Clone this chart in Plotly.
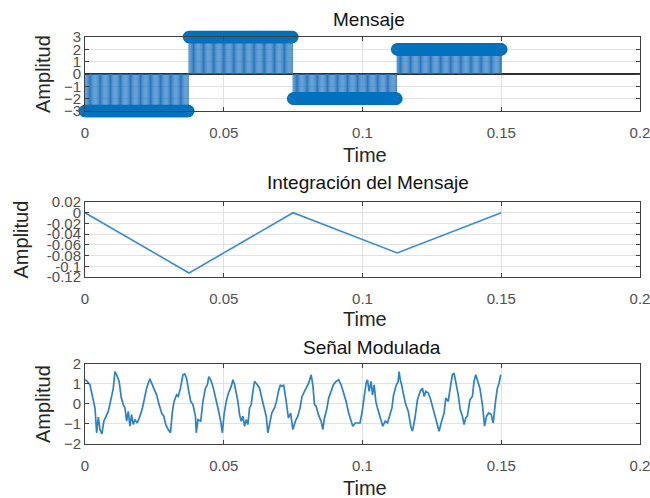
import numpy as np
import plotly.graph_objects as go

# ---------------- data ----------------
# Message: piecewise-constant levels and segment edges (s)
seg_edges = [0.0, 0.0375, 0.075, 0.1125, 0.15]
seg_levels = [-3, 3, -2, 2]
msg_step = 0.0004

# Integral of the message (vertices of the triangle wave)
int_t = [0.0, 0.0375, 0.075, 0.1125, 0.15]
int_v = [0.0, -0.1125, 0.0, -0.075, 0.0]

# Modulated signal
mod_t = [0.0000, 0.0008, 0.0018, 0.0028, 0.0036, 0.0042, 0.0048, 0.0054, 0.0061, 0.0068,
         0.0075, 0.0084, 0.0092, 0.0102, 0.0108, 0.0114, 0.0123, 0.0131, 0.0138, 0.0144,
         0.0150, 0.0156, 0.0162, 0.0168, 0.0174, 0.0180, 0.0188, 0.0198, 0.0207, 0.0216,
         0.0222, 0.0228, 0.0234, 0.0240, 0.0248, 0.0258, 0.0267, 0.0276, 0.0284, 0.0291,
         0.0300, 0.0308, 0.0315, 0.0321, 0.0330, 0.0336, 0.0344, 0.0353, 0.0359, 0.0366,
         0.0374, 0.0381, 0.0389, 0.0398, 0.0401, 0.0407, 0.0417, 0.0425, 0.0434, 0.0441,
         0.0446, 0.0453, 0.0461, 0.0470, 0.0479, 0.0489, 0.0495, 0.0501, 0.0509, 0.0517,
         0.0527, 0.0533, 0.0539, 0.0545, 0.0551, 0.0557, 0.0563, 0.0569, 0.0575, 0.0581,
         0.0587, 0.0593, 0.0599, 0.0605, 0.0611, 0.0621, 0.0629, 0.0637, 0.0647, 0.0653,
         0.0659, 0.0666, 0.0673, 0.0683, 0.0690, 0.0697, 0.0704, 0.0709, 0.0716, 0.0725,
         0.0733, 0.0741, 0.0749, 0.0758, 0.0767, 0.0775, 0.0782, 0.0791, 0.0799, 0.0806,
         0.0815, 0.0821, 0.0827, 0.0833, 0.0843, 0.0851, 0.0857, 0.0863, 0.0871, 0.0878,
         0.0887, 0.0895, 0.0905, 0.0914, 0.0923, 0.0931, 0.0941, 0.0950, 0.0959, 0.0965,
         0.0974, 0.0983, 0.0991, 0.0998, 0.1005, 0.1013, 0.1018, 0.1024, 0.1031, 0.1036,
         0.1042, 0.1048, 0.1054, 0.1063, 0.1073, 0.1082, 0.1090, 0.1099, 0.1106, 0.1112,
         0.1122, 0.1128, 0.1132, 0.1136, 0.1141, 0.1148, 0.1156, 0.1165, 0.1174, 0.1180,
         0.1189, 0.1198, 0.1208, 0.1216, 0.1222, 0.1228, 0.1237, 0.1244, 0.1252, 0.1261,
         0.1270, 0.1276, 0.1285, 0.1294, 0.1300, 0.1309, 0.1316, 0.1324, 0.1330, 0.1336,
         0.1345, 0.1352, 0.1360, 0.1366, 0.1372, 0.1378, 0.1387, 0.1396, 0.1402, 0.1408,
         0.1414, 0.1423, 0.1432, 0.1440, 0.1447, 0.1455, 0.1464, 0.1471, 0.1480, 0.1486,
         0.1492, 0.1498]
mod_v = [1.21, 1.13, 0.96, 0.30, -0.20, -1.44, -0.65, -1.28, -1.50, -0.86,
         -0.61, -0.37, 0.13, 0.79, 1.62, 1.46, 1.13, 0.30, -0.03, -0.20,
         -0.86, -0.37, -1.11, -0.53, -1.03, -0.78, -0.95, -0.61, -0.20, 0.46,
         0.79, 1.04, 1.26, 1.04, 0.79, 0.46, -0.03, -0.45, -0.61, -1.03,
         -1.28, -1.44, -0.37, 0.13, 0.46, 0.38, 0.79, 1.46, 1.50, 1.29,
         0.63, 0.13, -0.03, -0.61, -1.44, -0.78, -0.86, 0.13, 0.79, 0.96,
         1.37, 1.21, 0.88, 0.38, -0.20, -0.86, -1.44, -0.53, 0.13, 0.55,
         0.88, 1.21, 0.96, 0.55, 0.13, -0.53, -0.86, -0.61, -1.11, -0.78,
         -1.03, -0.20, -0.03, 0.63, 1.13, 0.96, 0.79, 0.30, -0.28, -0.61,
         -1.44, -0.86, -0.45, -0.20, 0.13, 0.63, 0.96, 0.88, 0.96, 0.13,
         -0.70, -0.45, -1.28, -0.86, -0.61, -0.20, 0.38, 0.63, 0.88, 1.04,
         1.46, 0.96, -0.03, -0.12, -0.61, -0.86, -1.28, -0.70, -0.28, 0.30,
         0.63, 0.96, 1.13, 1.21, 0.96, 0.63, 0.13, -0.45, -0.86, -1.11,
         -0.95, -0.95, -0.95, -0.45, 0.30, 1.04, 1.21, 0.63, 1.13, 0.46,
         0.96, 0.13, -0.20, -0.61, -1.11, -0.86, -0.95, -0.53, -0.20, 0.45,
         0.96, 1.10, 1.62, 1.21, 0.96, 0.46, -0.03, -0.37, -1.11, -1.36,
         -0.70, 0.21, 0.63, 0.79, 0.38, 0.63, 0.55, 0.30, -0.12, -0.45,
         -0.95, -1.36, -0.86, -0.45, 0.30, 0.13, 0.79, 1.46, 1.54, 1.13,
         0.46, -0.28, -0.61, -1.03, -0.70, -0.61, 0.21, 0.38, 1.13, 1.46,
         1.13, 0.79, -0.03, -1.11, -0.61, -0.45, -0.53, -0.95, 0.21, 0.79,
         1.04, 1.46]

x_ticks = [0, 0.05, 0.1, 0.15, 0.2]
x_ticktext = ["0", "0.05", "0.1", "0.15", "0.2"]
y1_ticks = [-3, -2, -1, 0, 1, 2, 3]
y2_ticks = [-0.12, -0.1, -0.08, -0.06, -0.04, -0.02, 0, 0.02]
y2_ticktext = ["-0.12", "-0.1", "-0.08", "-0.06", "-0.04", "-0.02", "0", "0.02"]
y3_ticks = [-2, -1, 0, 1, 2]

# ---------------- build message samples ----------------
msg_t, msg_v = [], []
for i, lvl in enumerate(seg_levels):
    a, b = seg_edges[i], seg_edges[i + 1]
    ts = np.arange(a, b - 1e-12, msg_step)
    if i == len(seg_levels) - 1:
        ts = np.append(ts, b)
    msg_t.extend(ts.tolist())
    msg_v.extend([lvl] * len(ts))

stem_x, stem_y = [], []
for t, v in zip(msg_t, msg_v):
    stem_x += [t, t, None]
    stem_y += [0, v, None]

BLUE = "#0072BD"
FONT = "Liberation Sans, Arial, Helvetica, sans-serif"

fig = go.Figure()
fig.add_trace(go.Scatter(x=stem_x, y=stem_y, mode="lines",
                         line=dict(color="#2677c0", width=1),
                         xaxis="x", yaxis="y", hoverinfo="skip", showlegend=False))
fig.add_trace(go.Scatter(x=msg_t, y=msg_v, mode="markers", cliponaxis=False,
                         marker=dict(symbol="circle-open", size=11, color=BLUE,
                                     line=dict(width=1.6, color=BLUE)),
                         xaxis="x", yaxis="y", showlegend=False))
fig.add_trace(go.Scatter(x=int_t, y=int_v, mode="lines",
                         line=dict(color="#3a8dd0", width=1.6),
                         xaxis="x2", yaxis="y2", showlegend=False))
fig.add_trace(go.Scatter(x=mod_t, y=mod_v, mode="lines",
                         line=dict(color="#2a82c9", width=1.7),
                         xaxis="x3", yaxis="y3", showlegend=False))

axis_common = dict(showline=True, linecolor="#404040", linewidth=1, mirror="allticks",
                   ticks="inside", ticklen=4, tickcolor="#404040",
                   showgrid=True, gridcolor="#e2e2e2", gridwidth=1, zeroline=False,
                   ticklabeloverflow="allow", automargin=False,
                   tickfont=dict(family=FONT, size=15, color="#505050"))

xcommon = dict(axis_common, range=[0, 0.2], tickmode="array",
               tickvals=x_ticks, ticktext=x_ticktext, domain=[0, 1],
               ticklabelstandoff=8)

fig.update_layout(
    width=650, height=498,
    margin=dict(l=85, r=10, t=37, b=54, autoexpand=False),
    paper_bgcolor="white", plot_bgcolor="white",
    xaxis=dict(xcommon, anchor="y"),
    yaxis=dict(axis_common, anchor="x", domain=[0.8182, 1.0], range=[-3, 3],
               tickmode="array", tickvals=y1_ticks,
               zeroline=True, zerolinecolor="#303030", zerolinewidth=1.5),
    xaxis2=dict(xcommon, anchor="y2"),
    yaxis2=dict(axis_common, anchor="x2", domain=[0.4103, 0.5946], range=[-0.12, 0.02],
                tickmode="array", tickvals=y2_ticks, ticktext=y2_ticktext),
    xaxis3=dict(xcommon, anchor="y3"),
    yaxis3=dict(axis_common, anchor="x3", domain=[0.0, 0.1966], range=[-2, 2],
                tickmode="array", tickvals=y3_ticks),
    showlegend=False,
)

def ann(text, x, y, size, angle=0, color="#111111"):
    fig.add_annotation(text=text, x=x, y=y, xref="paper", yref="paper",
                       xanchor="center", yanchor="middle", showarrow=False,
                       textangle=angle, font=dict(family=FONT, size=size, color=color))

ann("Mensaje", 0.5117, 1.0442, 19)
ann("Integración del Mensaje", 0.510, 0.6437, 19)
ann("Señal Modulada", 0.5166, 0.2371, 19)
for yy in (0.7101, 0.3071, -0.1081):
    ann("Time", 0.5045, yy, 20, color="#262626")
ann("Amplitud", -0.0757, 0.9091, 20, angle=-90, color="#262626")
ann("Amplitud", -0.1153, 0.5025, 20, angle=-90, color="#262626")
ann("Amplitud", -0.0757, 0.0983, 20, angle=-90, color="#262626")

fig.write_html("out.html",
               config={"displayModeBar": False},
               post_script="document.body.style.margin='0';document.body.style.padding='0';"
                           "document.documentElement.style.overflow='hidden';")
